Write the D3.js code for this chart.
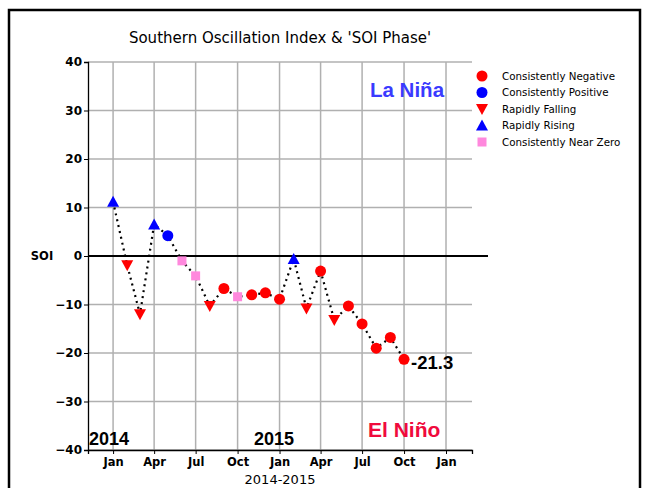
<!DOCTYPE html>
<html lang="en">
<head>
<meta charset="utf-8">
<script src="https://d3js.org/d3.v7.min.js"></script>
<style>
  body { margin: 0; background: #fff; }
  text { font-family: "DejaVu Sans", sans-serif; }
</style>
</head>
<body>
<div id="my_dataviz"></div>
<script>

// data
var months = ["2014-01","2014-02","2014-03","2014-04","2014-05","2014-06","2014-07","2014-08","2014-09","2014-10","2014-11","2014-12",
              "2015-01","2015-02","2015-03","2015-04","2015-05","2015-06","2015-07","2015-08","2015-09","2015-10"];
var soi = [11.2, -1.9, -12.0, 6.5, 4.2, -1.0, -4.1, -10.3, -6.7, -8.4, -8.0, -7.6,
           -8.9, -0.6, -10.8, -3.1, -13.2, -10.3, -14.0, -19.0, -16.8, -21.3];
var phase = ["rise","fall","fall","rise","pos","zero","zero","fall","neg","zero","neg","neg",
             "neg","rise","fall","neg","fall","neg","neg","neg","neg","neg"];

var phaseNames = ["neg","pos","fall","rise","zero"];
var phaseLabels = ["Consistently Negative","Consistently Positive","Rapidly Falling","Rapidly Rising","Consistently Near Zero"];
var yTicks = [-40, -30, -20, -10, 0, 10, 20, 30, 40];
var xTicks = ["2014-01","2014-04","2014-07","2014-10","2015-01","2015-04","2015-07","2015-10","2016-01"];
var xTickLabels = ["Jan","Apr","Jul","Oct","Jan","Apr","Jul","Oct","Jan"];

var parse = d3.timeParse("%Y-%m");
var data = months.map(function(m, i) { return {date: parse(m), value: soi[i], phase: phase[i]}; });

var W = 646, H = 488;
var margin = {top: 62, left: 88, right: 174, bottom: 38};

var svg = d3.select("#my_dataviz").append("svg")
    .attr("width", W).attr("height", H);

// figure frame
svg.append("rect")
    .attr("x", 9).attr("y", 10).attr("width", 631).attr("height", 490)
    .attr("fill", "none").attr("stroke", "black").attr("stroke-width", 2.5);

var x = d3.scaleTime()
    .domain([new Date(2013, 10, 7), new Date(2016, 1, 27)])
    .range([margin.left, W - margin.right]);
var y = d3.scaleLinear()
    .domain([-40, 40])
    .range([H - margin.bottom, margin.top]);

// grid
svg.append("g").selectAll("line.h")
  .data(yTicks).enter().append("line")
    .attr("x1", x.range()[0]).attr("x2", x.range()[1])
    .attr("y1", function(d) { return y(d); }).attr("y2", function(d) { return y(d); })
    .attr("stroke", "#b0b0b0").attr("stroke-width", 1.5);
svg.append("g").selectAll("line.v")
  .data(xTicks).enter().append("line")
    .attr("x1", function(d) { return x(parse(d)); }).attr("x2", function(d) { return x(parse(d)); })
    .attr("y1", y(-40)).attr("y2", y(40))
    .attr("stroke", "#b0b0b0").attr("stroke-width", 1.5);

// Y axis
var yAxis = svg.append("g")
    .attr("transform", "translate(" + margin.left + ",0)")
    .call(d3.axisLeft(y).tickValues(yTicks).tickSize(4).tickPadding(2)
      .tickFormat(function(d) { return d < 0 ? "\u2212" + Math.abs(d) : d; }));
yAxis.selectAll("text").style("font-size", "12px").style("font-weight", "bold").attr("fill", "black")
    .style("font-family", "DejaVu Sans");
yAxis.select(".domain").attr("stroke-width", 1.3);

// X axis
var xAxis = svg.append("g")
    .attr("transform", "translate(0," + y(-40) + ")")
    .call(d3.axisBottom(x).tickValues(xTicks.map(parse)).tickSize(4).tickPadding(4)
      .tickFormat(function(d, i) { return xTickLabels[i]; }));
xAxis.selectAll("text").style("font-size", "11.5px").style("font-weight", "bold").attr("fill", "black")
    .style("font-family", "DejaVu Sans");
xAxis.select(".domain").attr("stroke-width", 1.3);

// zero line
svg.append("line")
    .attr("x1", margin.left).attr("x2", 488)
    .attr("y1", y(0)).attr("y2", y(0))
    .attr("stroke", "black").attr("stroke-width", 2);

// dotted line
var line = d3.line()
    .x(function(d) { return x(d.date); })
    .y(function(d) { return y(d.value); });
svg.append("path")
    .datum(data)
    .attr("d", line)
    .attr("fill", "none").attr("stroke", "black")
    .attr("stroke-width", 2.2).attr("stroke-dasharray", "2,4");

// markers
var colors = {neg: "#ff0000", pos: "#0000ff", fall: "#ff0000", rise: "#0000ff", zero: "#ff88dd"};
function marker(sel, p) {
  if (p == "neg" || p == "pos") {
    sel.append("circle").attr("r", 5.5).attr("fill", colors[p]);
  } else if (p == "fall") {
    sel.append("path").attr("d", "M-6,-5L6,-5L0,6Z").attr("fill", colors[p]);
  } else if (p == "rise") {
    sel.append("path").attr("d", "M-6,5L6,5L0,-6Z").attr("fill", colors[p]);
  } else {
    sel.append("rect").attr("x", -4.5).attr("y", -4.5).attr("width", 9).attr("height", 9).attr("fill", colors[p]);
  }
}
data.forEach(function(d) {
  var g = svg.append("g").attr("transform", "translate(" + x(d.date) + "," + y(d.value) + ")");
  marker(g, d.phase);
});

// legend
phaseNames.forEach(function(p, i) {
  var ly = 76 + i * 16.5;
  var g = svg.append("g").attr("transform", "translate(482," + ly + ")");
  marker(g, p);
  svg.append("text").attr("x", 502).attr("y", ly).attr("dy", "0.35em")
    .text(phaseLabels[i]).style("font-size", "10.3px");
});

// titles and annotations
svg.append("text").attr("x", (x.range()[0] + x.range()[1]) / 2).attr("y", 43)
    .attr("text-anchor", "middle").style("font-size", "15px")
    .text("Southern Oscillation Index & 'SOI Phase'");
svg.append("text").attr("x", 42).attr("y", y(0)).attr("dy", "0.35em")
    .attr("text-anchor", "middle").style("font-size", "11.5px").style("font-weight", "bold")
    .text("SOI");
svg.append("text").attr("x", (x.range()[0] + x.range()[1]) / 2).attr("y", 484)
    .attr("text-anchor", "middle").style("font-size", "13px")
    .text("2014-2015");

svg.append("text").attr("x", 370).attr("y", 97)
    .style("font-size", "20.5px").style("font-weight", "bold").attr("fill", "#3a3aff")
    .style("font-family", "Liberation Sans")
    .text("La Niña");
svg.append("text").attr("x", 368).attr("y", 437)
    .style("font-size", "21px").style("font-weight", "bold").attr("fill", "#f00a3c")
    .style("font-family", "Liberation Sans")
    .text("El Niño");
svg.append("text").attr("x", 89).attr("y", 445)
    .style("font-size", "18px").style("font-weight", "bold")
    .style("font-family", "Liberation Sans")
    .text("2014");
svg.append("text").attr("x", 254).attr("y", 445)
    .style("font-size", "18px").style("font-weight", "bold")
    .style("font-family", "Liberation Sans")
    .text("2015");
svg.append("text").attr("x", x(data[data.length - 1].date) + 7).attr("y", 369)
    .style("font-size", "18.5px").style("font-weight", "bold")
    .style("font-family", "Liberation Sans")
    .text(soi[soi.length - 1].toFixed(1));

</script>
</body>
</html>
